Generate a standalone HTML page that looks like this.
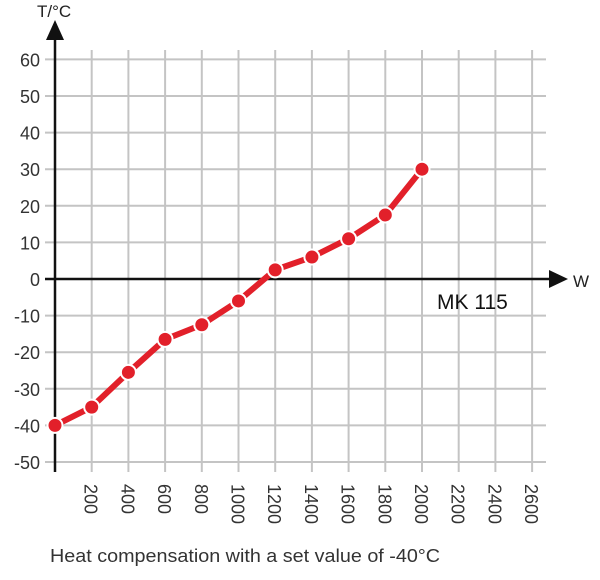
<!DOCTYPE html>
<html><head><meta charset="utf-8"><style>
body{margin:0;background:#fff;width:600px;height:575px;overflow:hidden}
svg{font-family:"Liberation Sans",sans-serif}
</style></head><body>
<svg id="chart" width="600" height="575" viewBox="0 0 600 575" xmlns="http://www.w3.org/2000/svg">
<g id="grid"></g>
<g id="axes"></g>
<g id="labels"></g>
<g id="series"></g>
<text x="437" y="309" font-size="21" fill="#111">MK 115</text>
<text x="50" y="562" font-size="18" fill="#333" textLength="390" lengthAdjust="spacingAndGlyphs">Heat compensation with a set value of -40°C</text>
<text x="37" y="17" font-size="17" fill="#222">T/°C</text>
<text x="573" y="287" font-size="17" fill="#222">W</text>
</svg>
<script>
const xValues=[0,200,400,600,800,1000,1200,1400,1600,1800,2000];
const yValues=[-40,-35,-25.5,-16.5,-12.5,-6,2.5,6,11,17.5,30];
const xTicks=[200,400,600,800,1000,1200,1400,1600,1800,2000,2200,2400,2600];
const yTicks=[60,50,40,30,20,10,0,-10,-20,-30,-40,-50];
const NS="http://www.w3.org/2000/svg";
const X=v=>55+v*(36.7/200);
const Y=v=>279-v*3.66;
function mk(tag,attrs,parent){const e=document.createElementNS(NS,tag);for(const k in attrs)e.setAttribute(k,attrs[k]);parent.appendChild(e);return e;}
const grid=document.getElementById('grid'),axes=document.getElementById('axes'),labels=document.getElementById('labels'),series=document.getElementById('series');
yTicks.forEach(t=>{
 const l=mk('line',{x1:45,x2:546,y1:Y(t),y2:Y(t),stroke:'#c4c4c4','stroke-width':2},grid);
 
 
 const tx=mk('text',{x:40,y:Y(t)+7,'text-anchor':'end','font-size':18,fill:'#333'},labels);
 tx.textContent=t;
 
 
});
xTicks.forEach(t=>{
 const l=mk('line',{x1:X(t),x2:X(t),y1:50,y2:472,stroke:'#c4c4c4','stroke-width':2},grid);
 
 
 const tx=mk('text',{x:0,y:0,'font-size':18,fill:'#333',transform:`translate(${X(t)-7},484) rotate(90)`},labels);
 tx.textContent=t;
 
 
});
let a=mk('line',{x1:55,x2:55,y1:35,y2:472,stroke:'#111','stroke-width':2.5},axes);

a=mk('polygon',{points:'55,20 46,40 64,40',fill:'#111'},axes);

a=mk('line',{x1:45,x2:552,y1:Y(0),y2:Y(0),stroke:'#111','stroke-width':2.5},axes);

a=mk('polygon',{points:`568,${Y(0)} 549,${Y(0)-9} 549,${Y(0)+9}`,fill:'#111'},axes);

const pts=xValues.map((x,i)=>X(x)+','+Y(yValues[i])).join(' ');
const pl=mk('polyline',{points:pts,fill:'none',stroke:'#e2202a','stroke-width':6,'stroke-linejoin':'round'},series);


xValues.forEach((x,i)=>{
 const c=mk('circle',{cx:X(x),cy:Y(yValues[i]),r:7.5,fill:'#e2202a',stroke:'#fff','stroke-width':2},series);
 
 
});
</script>
</body></html>
